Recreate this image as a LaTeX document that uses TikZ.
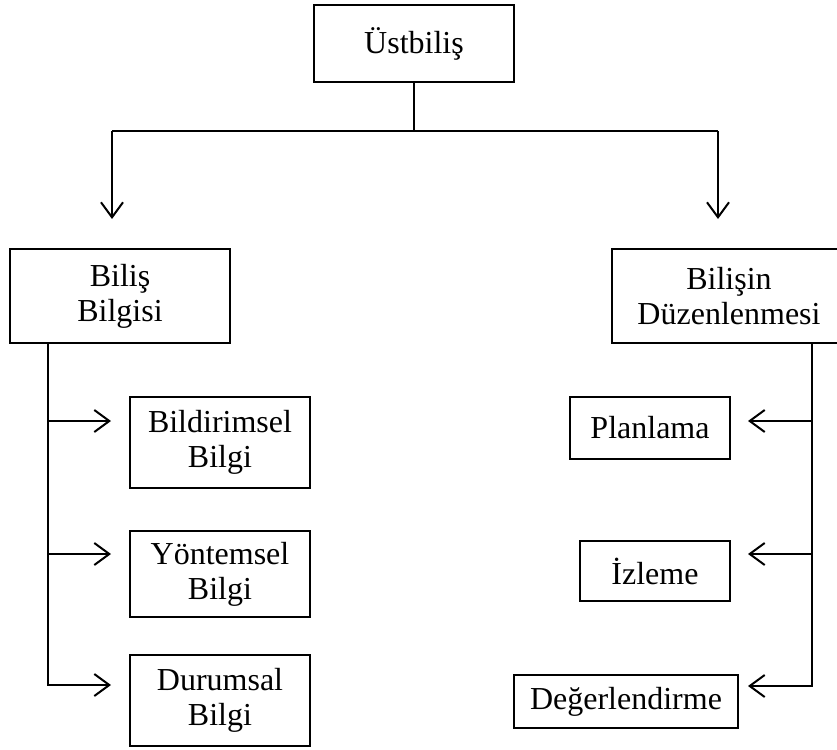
\documentclass[tikz,border=0pt]{standalone}
\usepackage{fontspec}
\setmainfont{Liberation Serif}
\usetikzlibrary{arrows.meta}
\begin{document}
\begin{tikzpicture}[x=1pt,y=-1pt,
  box/.style={draw, line width=1.3pt, rectangle, inner sep=0pt, align=center,
    font=\fontsize{32}{35}\selectfont},
  conn/.style={line width=2pt},
  arr/.style={line width=2pt, -{Straight Barb[length=15pt,width=22pt,line width=2pt]}}]
\useasboundingbox (0,0) rectangle (837,749);
\begin{scope}
\clip (0,0) rectangle (837,749);
% nodes
\node[box, minimum width=200pt, minimum height=77pt] (top) at (414,43.5) {Üstbiliş};
\node[box, minimum width=220pt, minimum height=94pt] (bil) at (120,296) {Biliş\\Bilgisi};
\node[box, minimum width=234pt, minimum height=94pt] (duz) at (729,296) {Bilişin\\Düzenlenmesi};
\node[box, minimum width=180pt, minimum height=91pt] (bild) at (220,442.5) {Bildirimsel\\Bilgi};
\node[box, minimum width=180pt, minimum height=86pt] (yont) at (220,574) {Yöntemsel\\Bilgi};
\node[box, minimum width=180pt, minimum height=91pt] (dur) at (220,700.5) {Durumsal\\Bilgi};
\node[box, minimum width=160pt, minimum height=62pt] (plan) at (650,428) {Planlama};
\node[box, minimum width=150pt, minimum height=60pt] (izl) at (655,571) {İzleme};
\node[box, minimum width=224pt, minimum height=53pt] (deg) at (626,701.5) {Değerlendirme};
\end{scope}
% coordinates
\coordinate (jn) at (414,131);
\coordinate (jl) at (112,131);
\coordinate (jr) at (718,131);
\coordinate (al) at (112,219);
\coordinate (ar) at (718,219);
\coordinate (ls) at (48,343);
\coordinate (lb1) at (48,421);
\coordinate (lb2) at (48,554);
\coordinate (lt1) at (111,421);
\coordinate (lt2) at (111,554);
\coordinate (lt3) at (111,685);
\coordinate (rs) at (812,343);
\coordinate (rb1) at (812,421);
\coordinate (rb2) at (812,554);
\coordinate (rt1) at (748,421);
\coordinate (rt2) at (748,554);
\coordinate (rt3) at (748,686);
% connectors
\draw[conn] (top.south) -- (jn);
\draw[conn] (jl) -- (jr);
\draw[arr] (jl) -- (al);
\draw[arr] (jr) -- (ar);
\draw[arr] (ls) |- (lt3);
\draw[arr] (lb1) -- (lt1);
\draw[arr] (lb2) -- (lt2);
\draw[arr] (rs) |- (rt3);
\draw[arr] (rb1) -- (rt1);
\draw[arr] (rb2) -- (rt2);
\end{tikzpicture}
\end{document}
